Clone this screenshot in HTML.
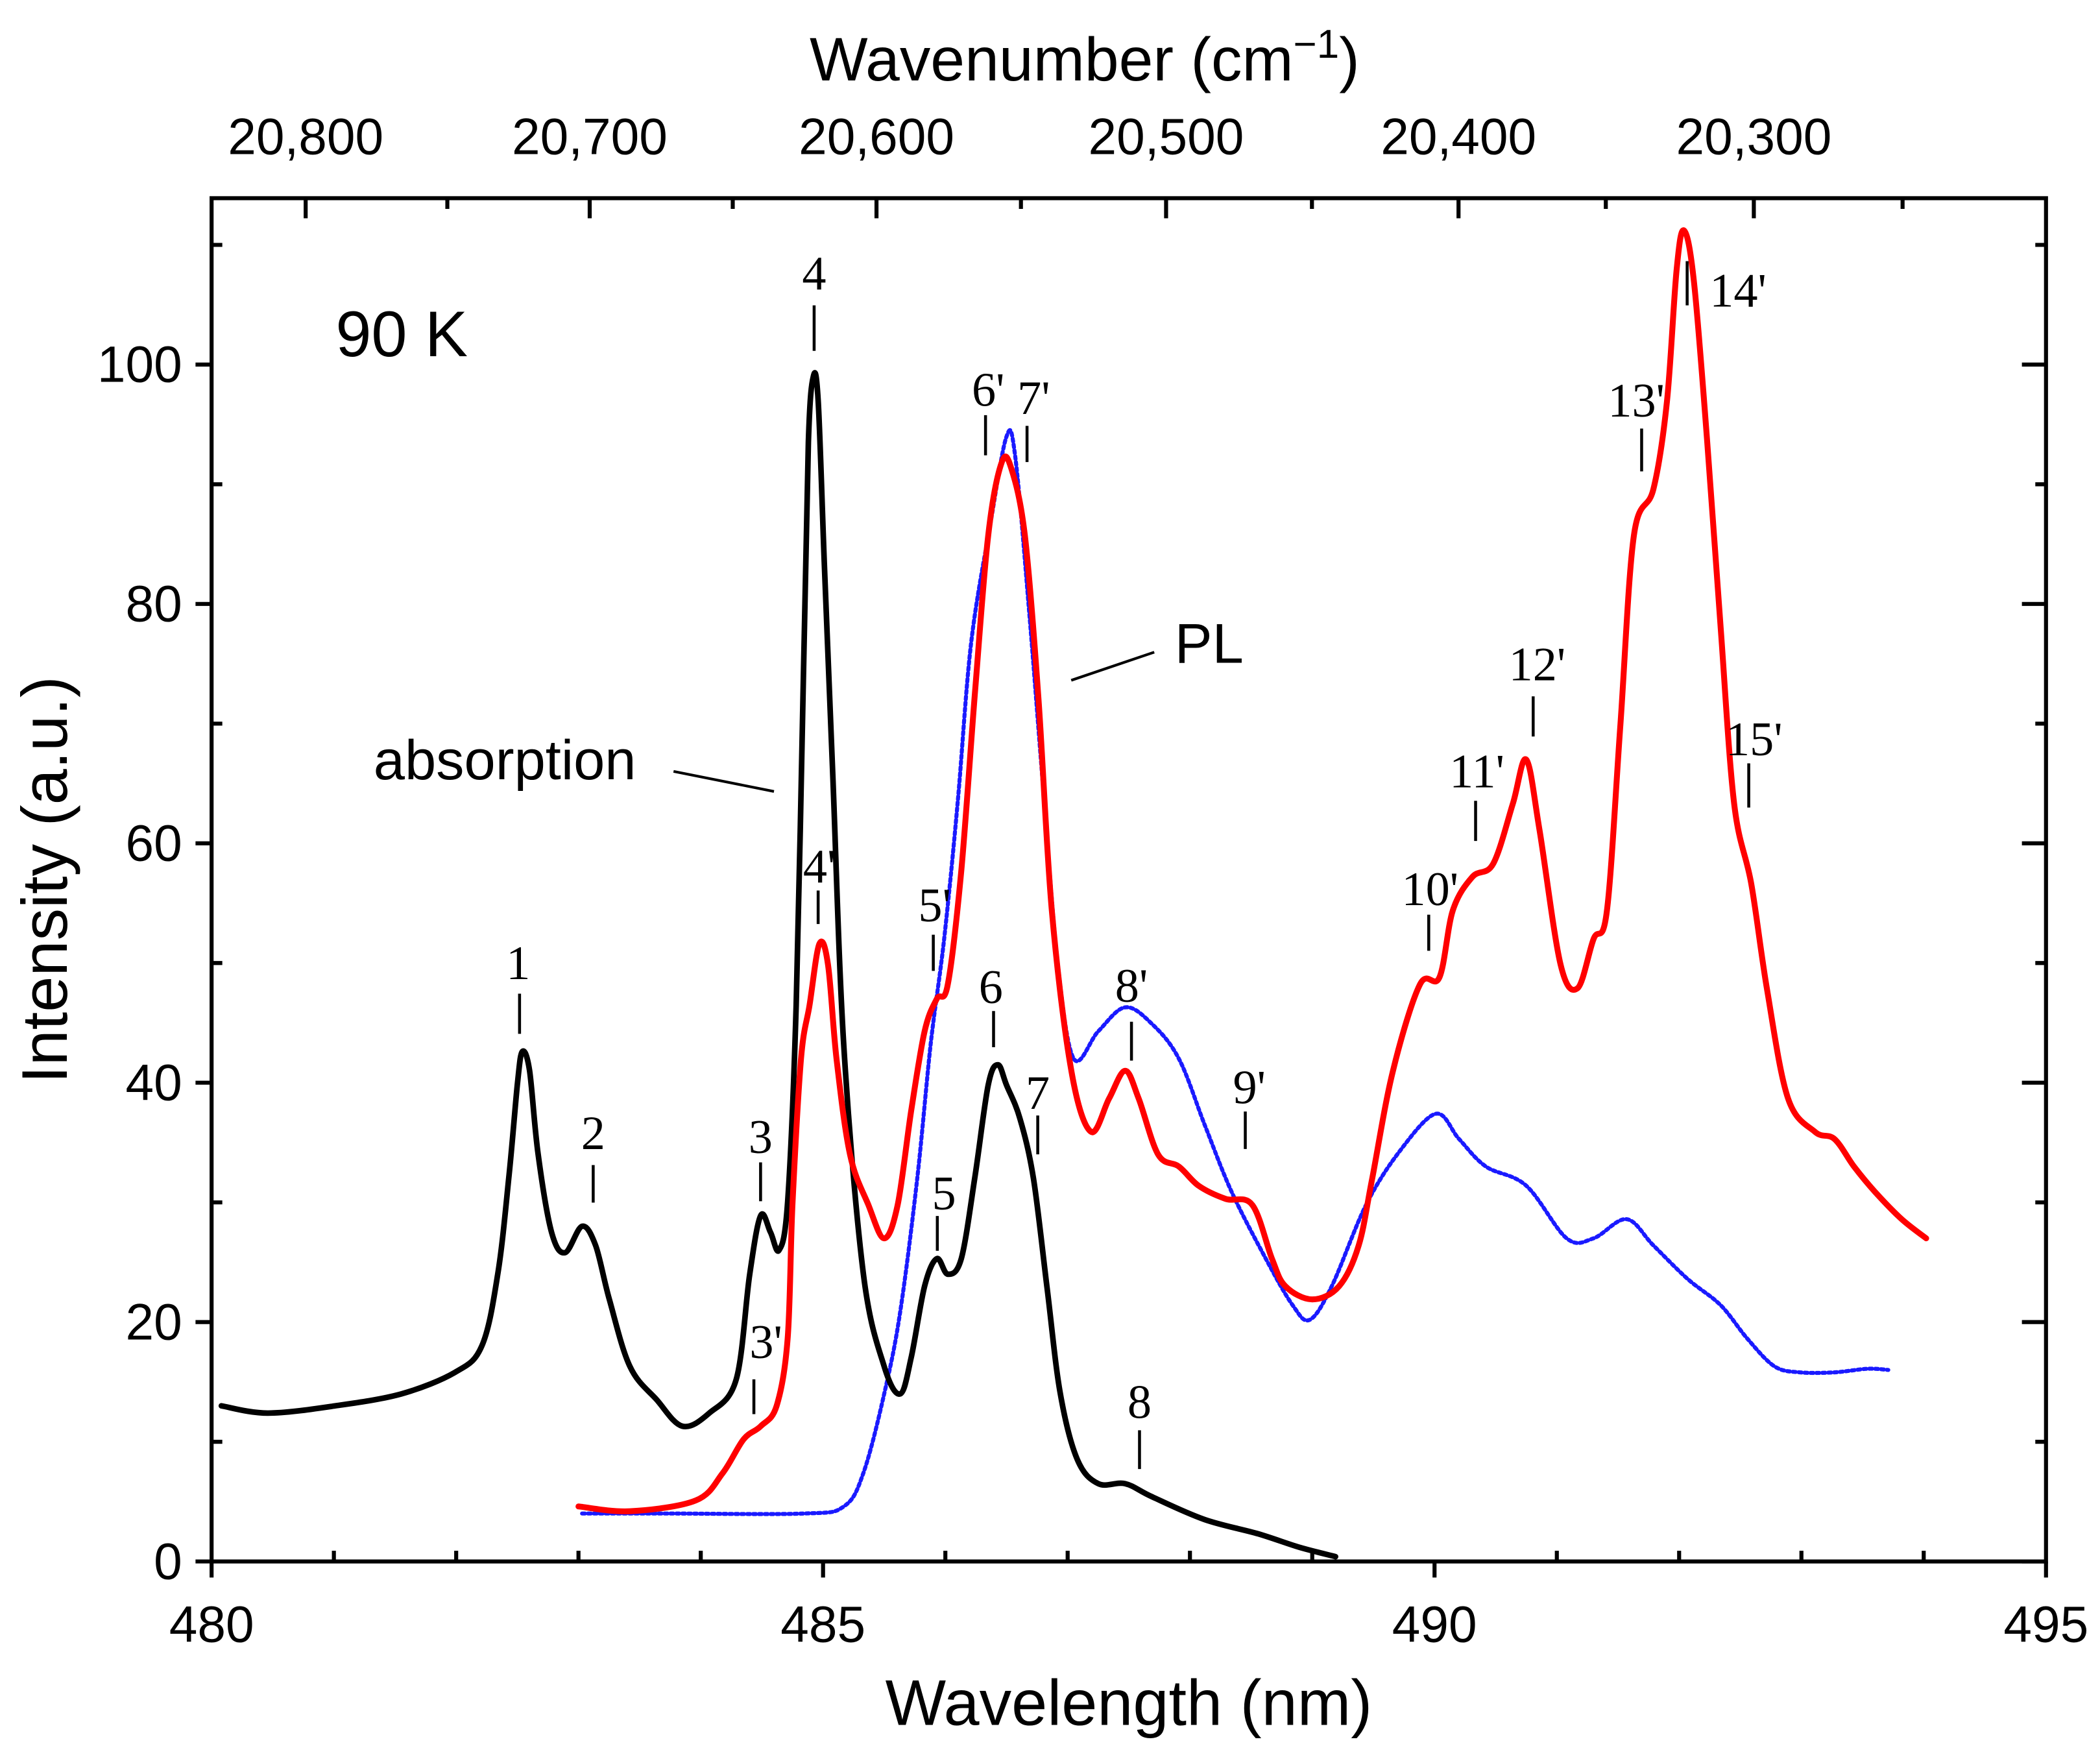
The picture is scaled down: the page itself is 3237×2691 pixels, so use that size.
<!DOCTYPE html>
<html><head><meta charset="utf-8"><style>
html,body{margin:0;padding:0;background:#fff;}
svg{display:block;}
</style></head><body>
<svg id="chart" xmlns="http://www.w3.org/2000/svg" width="3237" height="2691" viewBox="0 0 1568.3 1303.8">
<rect width="1568.3" height="1303.8" fill="#fff"/>
<g id="plot"></g>
</svg>
<script>
// ---- data ----
const absX=[480.08,480.46,481.01,481.55,481.99,482.21,482.34,482.43,482.50,482.54,482.60,482.67,482.78,482.89,483.03,483.14,483.25,483.42,483.64,483.85,484.07,484.29,484.40,484.49,484.57,484.64,484.71,484.78,484.84,484.88,484.92,484.96,485.01,485.08,485.17,485.33,485.50,485.63,485.72,485.83,485.93,486.02,486.13,486.24,486.35,486.43,486.50,486.61,486.72,486.83,486.94,487.08,487.25,487.47,487.69,488.12,488.56,488.89,489.19];
const absY=[13,12.4,13,14,15.8,18,24,32,39.8,42.6,41,34,27.5,25.8,28,26.4,22,16.3,13.5,11.3,12.4,15.2,24,28.9,27.5,26,30,46.5,74.5,93.5,99,97,83.4,65.5,43,24,16.3,14,17,23,25.3,24,25.3,32,39.8,41.5,39.8,37,32,23,14,8.5,6.5,6.5,5.4,3.5,2.3,1.2,0.4];
const plX=[483.00,483.42,483.96,484.18,484.35,484.49,484.62,484.71,484.75,484.82,484.89,484.97,485.04,485.11,485.22,485.37,485.50,485.61,485.72,485.83,485.93,486.02,486.13,486.24,486.35,486.46,486.54,486.65,486.76,486.87,487.03,487.19,487.34,487.47,487.58,487.74,487.91,488.07,488.29,488.51,488.67,488.78,489.00,489.22,489.38,489.49,489.66,489.88,490.04,490.15,490.31,490.48,490.64,490.75,490.86,491.03,491.17,491.30,491.41,491.52,491.63,491.79,491.90,491.98,492.04,492.12,492.23,492.34,492.45,492.59,492.72,492.89,493.11,493.27,493.43,493.60,493.82,494.02];
const plY=[4.6,4.2,5.1,7.4,10.2,11.3,13,18.6,29.8,42,46.5,51.6,49.9,42,34,29.8,27,29.8,37.6,44.3,47,48.2,57.7,72.3,85.7,91.8,91.3,85.7,72.3,54.4,41,35.9,38.7,41,38.7,34,33,31.4,30.3,29.8,25.3,23,21.9,23,26.4,32,41,48.2,48.8,54.4,57.2,58.3,63.3,67,61,49.9,47.9,52,54.4,70,85.7,89.6,96.9,108,111.2,107,93.5,77.9,63.3,56.6,47.7,38.7,35.9,35.3,33,30.9,28.6,27];
const dotX=[483.03,483.74,484.84,485.17,485.33,485.50,485.63,485.77,485.88,485.99,486.10,486.21,486.37,486.50,486.57,486.68,486.81,486.92,487.05,487.25,487.47,487.69,487.91,488.12,488.34,488.62,488.84,488.98,489.16,489.44,489.71,490.01,490.20,490.42,490.75,491.08,491.30,491.57,491.79,492.07,492.34,492.56,492.78,492.99,493.27,493.54,493.71];
const dotY=[4,4,4,4.6,7.4,14,20.8,32,43.2,52,63.3,76.7,86.8,94,92.4,80,63.3,49.9,42,44.3,46.3,44.9,42,36.5,30.9,25.3,21.4,20.2,23,29.8,34.2,37.4,35.3,33,31.4,27,27,28.6,26.4,23.6,21.4,18.6,16.3,15.8,15.8,16.1,16];
const xTicks=[480,485,490,495];
const yTicks=[0,20,40,60,80,100];
const topTicks=[20800,20700,20600,20500,20400,20300];
const topTickLabels=["20,800","20,700","20,600","20,500","20,400","20,300"];

// ---- scales ----
const L=158,R=1528,T=148,B=1166,XMIN=480,XMAX=495,YMAX=113.9;
const sx=v=>L+(v-XMIN)/(XMAX-XMIN)*(R-L);
const sy=v=>B-v/YMAX*(B-T);
const NS="http://www.w3.org/2000/svg";
const g=document.getElementById('plot');
function mk(tag,attrs,text){const e=document.createElementNS(NS,tag);for(const k in attrs)e.setAttribute(k,attrs[k]);if(text!==undefined)e.textContent=text;g.appendChild(e);return e;}
const SANS='"Liberation Sans", Arial, sans-serif', SERIF='"Liberation Serif", "Times New Roman", serif';

// curves (Catmull-Rom smoothed)
function curve(xs,ys,color,dash,w,name){
  const P=xs.map((x,i)=>[sx(x),sy(ys[i])]);
  let d='M'+P[0][0].toFixed(1)+','+P[0][1].toFixed(1);
  for(let i=0;i<P.length-1;i++){
    const p0=P[Math.max(i-1,0)],p1=P[i],p2=P[i+1],p3=P[Math.min(i+2,P.length-1)];
    const c1=[p1[0]+(p2[0]-p0[0])/6,p1[1]+(p2[1]-p0[1])/6];
    const c2=[p2[0]-(p3[0]-p1[0])/6,p2[1]-(p3[1]-p1[1])/6];
    d+='C'+c1[0].toFixed(1)+','+c1[1].toFixed(1)+' '+c2[0].toFixed(1)+','+c2[1].toFixed(1)+' '+p2[0].toFixed(1)+','+p2[1].toFixed(1);
  }
  const p=mk('path',{d:d,fill:'none',stroke:color,'stroke-width':w,'stroke-linejoin':'round','stroke-linecap':'round'});
  if(dash)p.setAttribute('stroke-dasharray',dash);
  
  
}
curve(dotX,dotY,'#1a1aff','2.2 2.2',3,'pl-excitation-dotted-line');
curve(absX,absY,'#000','',4.2,'absorption-line');
curve(plX,plY,'#ff0000','',4.4,'pl-line');

// axes frame
const fr=mk('rect',{x:L,y:T,width:R-L,height:B-T,fill:'none',stroke:'#000','stroke-width':3});



for(let v=XMIN;v<=XMAX;v+=1){
  const maj=xTicks.includes(v);
  const t=mk('line',{x1:sx(v),x2:sx(v),y1:B,y2:maj?B+12:B-8,stroke:'#000','stroke-width':3});
  
  
}
xTicks.forEach(v=>{
  const t=mk('text',{x:sx(v),y:B+60,'font-family':SANS,'font-size':38,'text-anchor':'middle'},String(v));
  
  
});
for(let v=0;v<=110;v+=10){
  const maj=yTicks.includes(v);
  const t=mk('line',{x1:L-(maj?12:0),x2:L+(maj?0:8),y1:sy(v),y2:sy(v),stroke:'#000','stroke-width':3});
  
  
  const t2=mk('line',{x1:R-(maj?18:8),x2:R,y1:sy(v),y2:sy(v),stroke:'#000','stroke-width':3});
  
  
}
yTicks.forEach(v=>{
  const t=mk('text',{x:L-22,y:sy(v)+13,'font-family':SANS,'font-size':38,'text-anchor':'end'},String(v));
  
  
});
for(let w=20850;w>=20200;w-=50){
  const nm=1e7/w; if(nm<XMIN||nm>XMAX) continue;
  const maj=topTicks.includes(w);
  const t=mk('line',{x1:sx(nm),x2:sx(nm),y1:T,y2:T+(maj?15:8),stroke:'#000','stroke-width':3});
  
  
}
topTicks.forEach((w,i)=>{
  const t=mk('text',{x:sx(1e7/w),y:T-33,'font-family':SANS,'font-size':38,'text-anchor':'middle'},topTickLabels[i]);
  
  
});

let a=mk('text',{x:843,y:1288,'font-family':SANS,'font-size':48,'text-anchor':'middle'},'Wavelength (nm)');


a=mk('text',{x:0,y:0,'font-family':SANS,'font-size':48,'text-anchor':'middle',transform:'translate(50,657) rotate(-90)'},'Intensity (a.u.)');


a=mk('text',{x:810,y:60,'font-family':SANS,'font-size':46,'text-anchor':'middle'},'Wavenumber (cm');


const ts=document.createElementNS(NS,'tspan');ts.setAttribute('dy','-17');ts.setAttribute('font-size','30');ts.textContent='\u22121';a.appendChild(ts);
const ts2=document.createElementNS(NS,'tspan');ts2.setAttribute('dy','17');ts2.textContent=')';a.appendChild(ts2);

a=mk('text',{x:300,y:266,'font-family':SANS,'font-size':48,'text-anchor':'middle'},'90 K');


a=mk('text',{x:377,y:582,'font-family':SANS,'font-size':42,'text-anchor':'middle'},'absorption');


a=mk('line',{x1:503,y1:576,x2:578,y2:591,stroke:'#000','stroke-width':2});


a=mk('text',{x:903,y:495,'font-family':SANS,'font-size':42,'text-anchor':'middle'},'PL');


a=mk('line',{x1:800,y1:508,x2:862,y2:487,stroke:'#000','stroke-width':2});



const ann=[["1",387,731,388,742,772],["2",443,858,443,870,898],["3",568,861,568,868,897],["3'",572,1014,563,1030,1056],
["4",608,216,608,228,262],["4'",612,659,611,665,690],["5'",698,688,697,698,725],["5",705,903,700,908,934],
["6",740,749,742,755,782],["7",775,828,775,833,862],["6'",738,303,736,310,340],["7'",772,309,767,318,345],
["8'",845,748,845,763,792],["8",851,1059,851,1068,1097],["9'",933,824,930,830,858],["10'",1068,676,1067,683,710],
["11'",1103,588,1102,598,628],["12'",1148,508,1145,520,550],["13'",1222,311,1226,320,352],["14'",1298,229,1260,195,228],["15'",1310,564,1306,570,603]];
ann.forEach(r=>{
  const t=mk('text',{x:r[1],y:r[2],'font-family':SERIF,'font-size':36,'text-anchor':'middle'},r[0]);
  
  
  const l=mk('line',{x1:r[3],x2:r[3],y1:r[4],y2:r[5],stroke:'#000','stroke-width':2.2});
  
  
});
</script>
</body></html>
